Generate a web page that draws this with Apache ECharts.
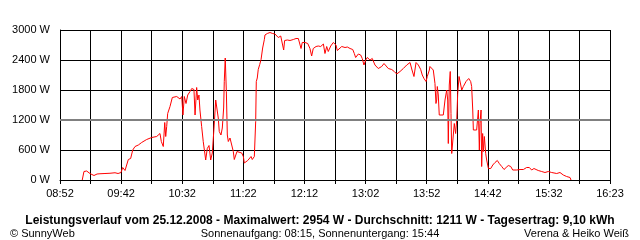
<!DOCTYPE html>
<html><head><meta charset="utf-8">
<script src="https://cdn.jsdelivr.net/npm/echarts@6/dist/echarts.min.js"></script>
<style>html,body{margin:0;padding:0;background:#fff}#c{width:640px;height:240px}</style>
</head><body><div id="c"></div>
<script>
// minutes after 08:52
var minutes = [18.2,19.6,21.8,24.5,27.8,30.3,32.7,36.8,40.9,45.0,47.5,49.9,51.3,53.2,55.9,57.8,59.5,61.4,64.1,66.8,70.9,75.0,79.1,81.8,82.9,84.5,85.7,86.5,87.3,88.1,90.0,91.9,95.5,98.2,99.6,100.6,101.7,103.1,104.5,106.4,107.8,109.6,110.5,111.8,112.7,113.7,114.5,115.9,117.2,119.2,120.5,121.9,123.3,124.6,126.0,127.4,128.5,129.5,130.3,131.7,132.8,133.9,134.4,135.2,136.1,136.9,137.7,139.1,140.5,141.8,142.6,143.8,144.8,145.9,148.7,150.0,150.8,151.9,153.6,154.9,156.3,157.3,159.0,160.1,160.6,161.4,162.2,163.4,164.5,165.8,167.2,167.7,169.6,171.8,174.0,175.9,177.3,178.6,180.6,182.2,183.0,183.8,186.0,188.2,190.9,193.1,195.0,196.4,197.2,198.2,200.5,202.7,204.5,205.9,207.2,209.5,211.3,213.3,215.5,216.8,218.2,219.5,221.5,223.6,225.8,226.9,228.5,230.5,233.2,235.1,237.3,239.5,240.8,241.9,244.1,246.0,247.3,248.7,250.1,251.4,253.6,255.5,257.7,260.4,263.2,265.1,266.7,268.6,271.4,273.5,275.5,278.2,280.9,283.7,286.4,288.0,289.6,291.3,293.2,295.1,296.4,297.8,299.5,300.5,302.2,302.7,304.1,305.4,306.8,307.6,308.2,308.7,309.5,310.3,313.6,315.0,316.4,317.2,317.7,318.5,319.3,319.9,320.5,321.8,322.6,323.7,324.6,325.4,326.5,327.3,328.7,330.0,332.2,334.4,336.0,336.8,337.7,338.2,340.9,342.3,343.1,343.6,344.5,345.0,345.8,346.4,347.2,348.3,349.1,350.5,352.4,354.1,355.9,357.8,359.4,361.4,363.3,365.0,366.8,368.8,370.4,373.7,376.4,379.1,381.8,384.0,385.9,387.8,389.5,391.3,394.1,396.8,399.5,402.3,403.6,406.4,409.1,411.8,414.5,417.3,418.1];
var watts = [0,170,180,130,90,120,125,130,135,145,130,150,250,190,410,430,600,670,700,750,810,850,870,930,770,670,1150,870,1070,1330,1470,1650,1670,1620,1670,1300,1670,1530,1700,1770,1830,1810,1300,1850,1600,1700,1400,1070,770,400,630,690,400,540,1040,1600,1600,1240,970,900,1040,1440,1970,2440,1770,900,770,840,870,570,410,370,570,540,540,470,340,370,390,370,470,410,470,1170,1970,2040,2210,2310,2410,2640,2810,2900,2930,2950,2930,2920,2890,2850,2880,2870,2600,2790,2800,2790,2810,2830,2830,2820,2630,2750,2750,2730,2630,2480,2630,2670,2680,2670,2720,2530,2670,2570,2680,2750,2700,2590,2630,2670,2650,2660,2630,2610,2530,2450,2520,2500,2430,2300,2400,2450,2400,2430,2300,2230,2270,2330,2350,2230,2210,2170,2120,2170,2230,2300,2350,2200,2070,2350,2300,2210,2100,2030,1970,2070,2200,2270,2230,2200,1930,1530,1600,1870,1700,1300,1300,1600,1800,1600,730,1900,2170,1330,530,530,1130,930,1200,1730,2070,2070,1800,1870,1970,2030,1970,1870,1400,1000,1000,1400,600,1130,1400,270,930,570,870,530,400,230,230,300,350,390,330,270,210,250,290,270,200,200,210,210,250,250,200,230,210,190,170,150,170,150,170,130,150,100,70,50,0];
var xTickLabels = ['08:52','09:42','10:32','11:22','12:12','13:02','13:52','14:42','15:32','16:23'];
var yTicks = [0,600,1200,1800,2400,3000];
var titleText = 'Leistungsverlauf vom 25.12.2008 - Maximalwert: 2954 W - Durchschnitt: 1211 W - Tagesertrag: 9,10 kWh';
var footLeft = '\u00a9 SunnyWeb';
var footCenter = 'Sonnenaufgang: 08:15, Sonnenuntergang: 15:44';
var footRight = 'Verena & Heiko Wei\u00df';

var data = minutes.map(function(m,i){return [m, watts[i]];});
var chart = echarts.init(document.getElementById('c'), null, {renderer:'canvas'});
var F = 'Liberation Sans, Arial, sans-serif';
chart.setOption({
  animation:false,
  backgroundColor:'#fff',
  grid:{left:60,right:30,top:30,bottom:60,containLabel:false},
  xAxis:{type:'value',min:0,max:450,interval:25,
    axisLine:{show:true,lineStyle:{color:'#000',width:1}},
    axisTick:{show:true,length:4,lineStyle:{color:'#000'}},
    splitLine:{show:true,lineStyle:{color:'#000',width:1}},
    axisLabel:{color:'#000',fontFamily:F,fontSize:11,margin:8,showMinLabel:true,showMaxLabel:true,
      formatter:function(v){var k=v/50; return (Math.abs(k-Math.round(k))<1e-6)?xTickLabels[Math.round(k)]:'';}}
  },
  yAxis:{type:'value',min:yTicks[0],max:yTicks[yTicks.length-1],interval:600,
    axisLine:{show:true,lineStyle:{color:'#000'}},
    axisTick:{show:false},
    splitLine:{show:true,lineStyle:{color:'#000',width:1}},
    axisLabel:{color:'#000',fontFamily:F,fontSize:11,margin:10,formatter:function(v){return String(v)+' W';}}
  },
  title:[
    {text:titleText,left:'center',top:210,textStyle:{fontFamily:F,fontSize:12,fontWeight:'bold',color:'#000'}},
    {text:footLeft,left:5,top:223,textStyle:{fontFamily:F,fontSize:11,fontWeight:'normal',color:'#000'}},
    {text:footCenter,left:'center',top:223,textStyle:{fontFamily:F,fontSize:11,fontWeight:'normal',color:'#000'}},
    {text:footRight,right:6,top:223,textStyle:{fontFamily:F,fontSize:11,fontWeight:'normal',color:'#000'}}
  ],
  series:[{type:'line',data:data,showSymbol:false,symbol:'none',
    lineStyle:{color:'#ff0000',width:1},
    markLine:{silent:true,symbol:'none',label:{show:false},lineStyle:{color:'#808080',width:2,type:'solid'},data:[{yAxis:1200}]},
    z:3}]
});
</script></body></html>
